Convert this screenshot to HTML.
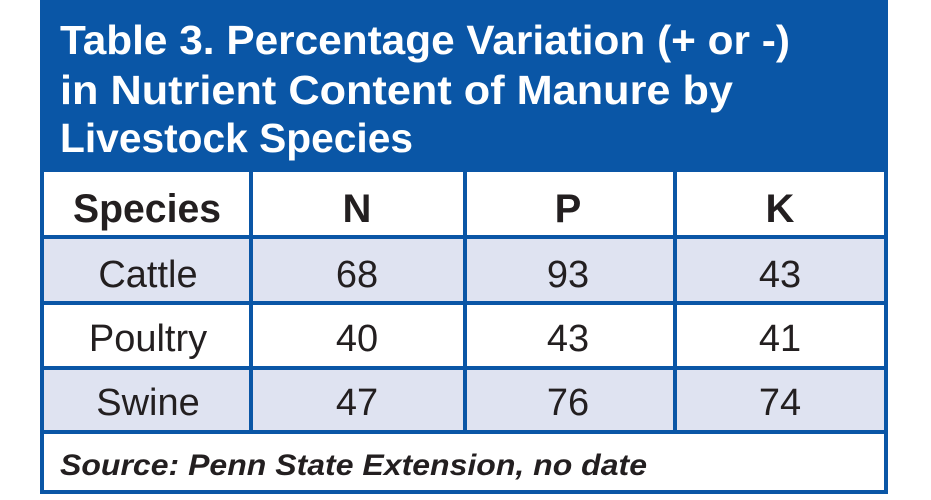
<!DOCTYPE html>
<html><head><style>body{margin:0;background:#fff}svg{display:block}</style></head><body>
<svg width="931" height="500" viewBox="0 0 931 500" xmlns="http://www.w3.org/2000/svg" font-family="Liberation Sans, sans-serif">
<rect x="40" y="0" width="848" height="172" fill="#0a56a6"/>
<g fill="#fff" font-weight="bold" font-size="41">
<text x="60" y="54" textLength="730" lengthAdjust="spacingAndGlyphs">Table 3. Percentage Variation (+ or -)</text>
<text x="60" y="104" textLength="673" lengthAdjust="spacingAndGlyphs">in Nutrient Content of Manure by</text>
<text x="60" y="152" textLength="353" lengthAdjust="spacingAndGlyphs">Livestock Species</text>
</g>
<rect x="42" y="237" width="844" height="66" fill="#dfe3f1"/>
<rect x="42" y="368" width="844" height="64" fill="#dfe3f1"/>
<g stroke="#0a56a6" stroke-width="4" fill="none">
<rect x="42" y="170" width="844" height="322"/>
<line x1="40" y1="237" x2="888" y2="237"/>
<line x1="40" y1="303" x2="888" y2="303"/>
<line x1="40" y1="368" x2="888" y2="368"/>
<line x1="40" y1="432" x2="888" y2="432"/>
<line x1="251" y1="170" x2="251" y2="432"/>
<line x1="465" y1="170" x2="465" y2="432"/>
<line x1="675" y1="170" x2="675" y2="432"/>
</g>
<g fill="#231f20" text-anchor="middle">
<g font-weight="bold" font-size="40">
<text x="147" y="222" textLength="148" lengthAdjust="spacingAndGlyphs">Species</text>
<text x="357" y="222">N</text><text x="568" y="222">P</text><text x="780" y="222">K</text>
</g>
<g font-size="38">
<text x="148" y="287">Cattle</text><text x="357" y="287">68</text><text x="568" y="287">93</text><text x="780" y="287">43</text>
<text x="148" y="351">Poultry</text><text x="357" y="351">40</text><text x="568" y="351">43</text><text x="780" y="351">41</text>
<text x="148" y="415">Swine</text><text x="357" y="415">47</text><text x="568" y="415">76</text><text x="780" y="415">74</text>
</g>
</g>
<text x="60" y="475" fill="#231f20" font-weight="bold" font-style="italic" font-size="30" textLength="587" lengthAdjust="spacingAndGlyphs">Source: Penn State Extension, no date</text>
</svg>
</body></html>
